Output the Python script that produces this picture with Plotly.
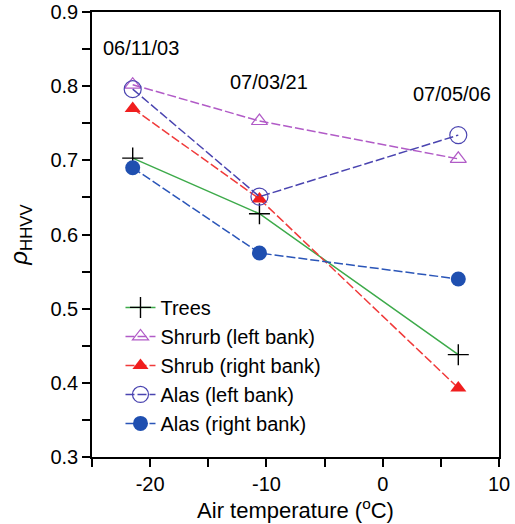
import plotly.graph_objects as go

temps = [-21.5, -10.6, 6.5]
dates = ["06/11/03", "07/03/21", "07/05/06"]
date_label_x = [-20.8, -9.8, 6.0]
date_label_y = [0.8515, 0.8056, 0.790]
trees = [0.703, 0.628, 0.438]
shrub_left = [0.802, 0.753, 0.702]
shrub_right = [0.770, 0.648, 0.393]
alas_left = [0.796, 0.651, 0.734]
alas_right = [0.690, 0.575, 0.540]

x_tick_vals = [-20, -10, 0, 10]
x_tick_labels = ["-20", "-10", "0", "10"]
y_tick_vals = [0.3, 0.4, 0.5, 0.6, 0.7, 0.8, 0.9]
y_tick_labels = ["0.3", "0.4", "0.5", "0.6", "0.7", "0.8", "0.9"]

fig = go.Figure()
fig.add_trace(go.Scatter(x=temps, y=trees, name="Trees", mode="lines+markers",
                         line=dict(color="#3daa4a", width=1.5),
                         marker=dict(symbol="cross-thin", size=15, line=dict(color="black", width=1.4), color="black")))
fig.add_trace(go.Scatter(x=temps, y=shrub_left, name="Shrurb (left bank)", mode="lines+markers",
                         line=dict(color="#b15bc7", width=1.5, dash="9px,3px"),
                         marker=dict(symbol="triangle-up-open", size=14, color="#b15bc7", line=dict(width=1.2))))
fig.add_trace(go.Scatter(x=temps, y=shrub_right, name="Shrub (right bank)", mode="lines+markers",
                         line=dict(color="#f03a3a", width=1.5, dash="9px,3px"),
                         marker=dict(symbol="triangle-up", size=14, color="#f01e1e")))
fig.add_trace(go.Scatter(x=temps, y=alas_left, name="Alas (left bank)", mode="lines+markers",
                         line=dict(color="#4a44b0", width=1.5, dash="9px,3px"),
                         marker=dict(symbol="circle-open", size=17, color="#4a44b0", line=dict(width=1.2))))
fig.add_trace(go.Scatter(x=temps, y=alas_right, name="Alas (right bank)", mode="lines+markers",
                         line=dict(color="#2a55b8", width=1.5, dash="9px,3px"),
                         marker=dict(symbol="circle", size=15, color="#1f4fb0")))

for tx, d, yy in zip(date_label_x, dates, date_label_y):
    fig.add_annotation(x=tx, y=yy, text=d, showarrow=False, font=dict(size=20, color="black"))

axis_common = dict(showline=True, linecolor="black", linewidth=1.5, mirror=True,
                   ticks="outside", ticklen=8, tickwidth=1.5, tickcolor="black",
                   showgrid=False, zeroline=False, automargin=False,
                   tickfont=dict(size=20, color="black"))

fig.update_xaxes(range=[-25, 10], tickmode="array", tickvals=x_tick_vals, ticktext=x_tick_labels,
                 minor=dict(tickmode="linear", tick0=-25, dtick=5, ticklen=8, tickwidth=1.5,
                            tickcolor="black", ticks="outside"),
                 title=dict(text="Air temperature (<sup>o</sup>C)", font=dict(size=22, color="black"), standoff=2),
                 **axis_common)
fig.update_yaxes(range=[0.3, 0.9], tickmode="array", tickvals=y_tick_vals, ticktext=y_tick_labels,
                 minor=dict(tickmode="linear", tick0=0.3, dtick=0.05, ticklen=8, tickwidth=1.5,
                            tickcolor="black", ticks="outside"),
                 title=dict(text="<i>ρ</i><sub>HHVV</sub>", font=dict(size=24, color="black"), standoff=16),
                 **axis_common)

fig.update_layout(width=515, height=524,
                  margin=dict(l=92, r=16, t=12, b=67, autoexpand=False),
                  plot_bgcolor="white", paper_bgcolor="white",
                  font=dict(family="Liberation Sans, Arial, sans-serif", color="black"),
                  legend=dict(x=0.07, y=0.38, xanchor="left", yanchor="top",
                              bgcolor="rgba(0,0,0,0)", font=dict(size=20, color="black"),
                              tracegroupgap=0),
                  showlegend=True)

fig.write_html("out.html")
